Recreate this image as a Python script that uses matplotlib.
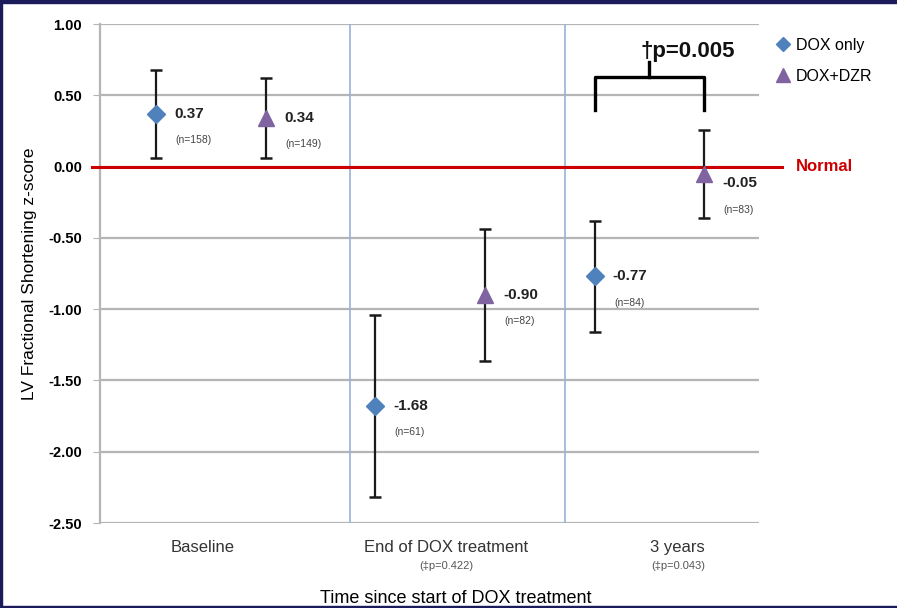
import matplotlib as mpl
mpl.use('Agg')
import matplotlib.pyplot as plt
from matplotlib.patches import Rectangle
from matplotlib.lines import Line2D

mpl.rcParams['font.family'] = ['Liberation Sans', 'DejaVu Sans']

# data
groups = ['Baseline', 'End of DOX treatment', '3 years']
group_notes = ['', '(\u2021p=0.422)', '(\u2021p=0.043)']
dox_mean = [0.37, -1.68, -0.77]
dox_err = [0.31, 0.64, 0.39]
dox_n = [158, 61, 84]
dzr_mean = [0.34, -0.90, -0.05]
dzr_err = [0.28, 0.465, 0.31]
dzr_n = [149, 82, 83]
p_text = '\u2020p=0.005'

blue = '#4F81BD'
purple = '#8064A2'
navy = '#1b1b5c'

fig = plt.figure(figsize=[8.97, 6.08], dpi=100)
fig.patch.set_facecolor('white')
# dark frame
fig.patches.append(Rectangle((0, 1 - 3/608.), 1, 3/608., transform=fig.transFigure, color=navy, zorder=0))
fig.patches.append(Rectangle((0, 0), 2/897., 1, transform=fig.transFigure, color=navy, zorder=0))
fig.patches.append(Rectangle((0, 0), 1, 2/608., transform=fig.transFigure, color=navy, zorder=0))

ax = fig.add_axes([0.1115, 0.1398, 0.7345, 0.8207])

x = range(len(groups))
off = 0.25
xd = [i - off for i in x]
xz = [i + off for i in x]

ax.errorbar(xd, dox_mean, yerr=dox_err, fmt='D', color=blue, ms=9,
            ecolor='#1a1a1a', elinewidth=1.6, capsize=4.5, capthick=1.8, zorder=4)
ax.errorbar(xz, dzr_mean, yerr=dzr_err, fmt='^', color=purple, ms=11,
            ecolor='#1a1a1a', elinewidth=1.6, capsize=4.5, capthick=1.8, zorder=4)

# value + n labels (last DZR point sits on the Normal line, so its label drops a bit)
for xs, ms, ns in [(xd, dox_mean, dox_n), (xz, dzr_mean, dzr_n)]:
    for xi, m, n in zip(xs, ms, ns):
        dy = -7 if (xi == xz[2]) else 0
        ax.annotate('%.2f' % m, (xi, m), xytext=(13, dy), textcoords='offset points',
                    fontsize=11, fontweight='bold', color='#222222', va='center', ha='left')
        ax.annotate('(n=%d)' % n, (xi, m), xytext=(14, dy - 19), textcoords='offset points',
                    fontsize=7.5, color='#444444', va='center', ha='left')

ax.set_ylim(-2.5, 1.0)
ax.set_xlim(-0.507, 2.50)
ax.set_yticks([1.0, 0.5, 0.0, -0.5, -1.0, -1.5, -2.0, -2.5])
ax.set_yticklabels(['%.2f' % v for v in ax.get_yticks()], fontweight='bold', fontsize=10.5)
ax.grid(axis='y', color='#b5b5b5', linewidth=1.6)
ax.set_axisbelow(True)
for s in ['top', 'right', 'bottom']:
    ax.spines[s].set_visible(False)
ax.spines['left'].set_color('#b5b5b5')
ax.spines['left'].set_linewidth(1.6)
ax.tick_params(axis='y', length=5, color='#b5b5b5', pad=8)

# group separators
for sx in [0.635, 1.616]:
    ax.axvline(sx, color='#95b3d7', linewidth=1.2, zorder=1)

# normal line
ax.plot([-0.545, 2.607], [0, 0], color='#cc0000', linewidth=2.2, clip_on=False, zorder=3)
ax.text(2.67, 0, 'Normal', color='#cc0000', fontsize=12, fontweight='bold', va='center', ha='left')

# category labels
cat_x = [-0.04, 1.074, 2.13]
ax.set_xticks(cat_x)
ax.set_xticklabels(groups, fontsize=12, color='#333333')
ax.tick_params(axis='x', length=0, pad=12)
for xi, note in zip(cat_x, group_notes):
    if note:
        ax.annotate(note, (xi, -2.5), xytext=(0, -31), textcoords='offset points',
                    fontsize=8, color='#555555', ha='center', va='center')
ax.set_xlabel('Time since start of DOX treatment', fontsize=13)
ax.xaxis.set_label_coords(0.54, -0.135)
ax.set_ylabel('LV Fractional Shortening z-score', fontsize=12.5)
ax.yaxis.set_label_coords(-0.096, 0.5)

# significance bracket
yb = 0.628
ax.plot([xd[2], xd[2], xz[2], xz[2]], [0.397, yb, yb, 0.397], color='black', linewidth=2.4, zorder=4)
ax.plot([2.0, 2.0], [yb, 0.735], color='black', linewidth=2.4, zorder=4)
ax.text(1.96, 0.81, p_text, fontsize=16, fontweight='bold', ha='left', va='center', color='#111111')

# legend
handles = [Line2D([], [], ls='none', marker='D', color=blue, ms=7),
           Line2D([], [], ls='none', marker='^', color=purple, ms=10)]
ax.legend(handles, ['DOX only', 'DOX+DZR'], loc='upper left', bbox_to_anchor=(1.015, 0.985),
          frameon=False, fontsize=11.5, handletextpad=0.3, labelspacing=1.0,
          handlelength=1.0, borderaxespad=0)

fig.savefig('out.png', dpi=100)
